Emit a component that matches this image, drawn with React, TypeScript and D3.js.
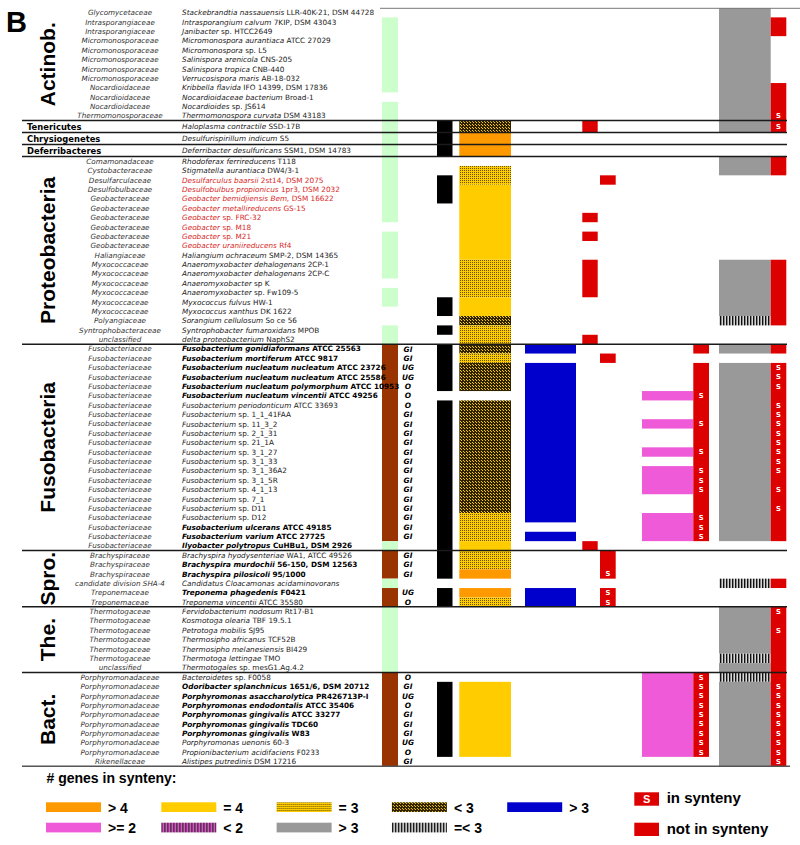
import React from "react";
import * as d3 from "d3";

// ---------- DATA ----------
const groupNames = ["Actinob.", "Tenericutes", "Chrysiogenetes", "Deferribacteres", "Proteobacteria", "Fusobacteria", "Spro.", "The.", "Bact."];
const groupSizes = [12, 1, 1, 1, 20, 22, 6, 7, 10];

const families = [
  "Glycomycetaceae", "Intrasporangiaceae", "Intrasporangiaceae", "Micromonosporaceae", "Micromonosporaceae",
  "Micromonosporaceae", "Micromonosporaceae", "Micromonosporaceae", "Nocardioidaceae", "Nocardioidaceae",
  "Nocardioidaceae", "Thermomonosporaceae",
  "", "", "",
  "Comamonadaceae", "Cystobacteraceae", "Desulfarculaceae", "Desulfobulbaceae", "Geobacteraceae",
  "Geobacteraceae", "Geobacteraceae", "Geobacteraceae", "Geobacteraceae", "Geobacteraceae",
  "Haliangiaceae", "Myxococcaceae", "Myxococcaceae", "Myxococcaceae", "Myxococcaceae",
  "Myxococcaceae", "Myxococcaceae", "Polyangiaceae", "Syntrophobacteraceae", "unclassified",
  "Fusobacteriaceae", "Fusobacteriaceae", "Fusobacteriaceae", "Fusobacteriaceae", "Fusobacteriaceae",
  "Fusobacteriaceae", "Fusobacteriaceae", "Fusobacteriaceae", "Fusobacteriaceae", "Fusobacteriaceae",
  "Fusobacteriaceae", "Fusobacteriaceae", "Fusobacteriaceae", "Fusobacteriaceae", "Fusobacteriaceae",
  "Fusobacteriaceae", "Fusobacteriaceae", "Fusobacteriaceae", "Fusobacteriaceae", "Fusobacteriaceae",
  "Fusobacteriaceae", "Fusobacteriaceae",
  "Brachyspiraceae", "Brachyspiraceae", "Brachyspiraceae", "candidate division SHA-4", "Treponemaceae", "Treponemaceae",
  "Thermotogaceae", "Thermotogaceae", "Thermotogaceae", "Thermotogaceae", "Thermotogaceae", "Thermotogaceae", "unclassified",
  "Porphyromonadaceae", "Porphyromonadaceae", "Porphyromonadaceae", "Porphyromonadaceae", "Porphyromonadaceae",
  "Porphyromonadaceae", "Porphyromonadaceae", "Porphyromonadaceae", "Porphyromonadaceae", "Rikenellaceae",
];

const species = [
  "Stackebrandtia nassauensis|LLR-40K-21, DSM 44728",
  "Intrasporangium calvum|7KIP, DSM 43043",
  "Janibacter|sp. HTCC2649",
  "Micromonospora aurantiaca|ATCC 27029",
  "Micromonospora|sp. L5",
  "Salinispora arenicola|CNS-205",
  "Salinispora tropica|CNB-440",
  "Verrucosispora maris|AB-18-032",
  "Kribbella flavida|IFO 14399, DSM 17836",
  "Nocardioidaceae bacterium|Broad-1",
  "Nocardioides|sp. JS614",
  "Thermomonospora curvata|DSM 43183",
  "Haloplasma contractile|SSD-17B",
  "Desulfurispirillum indicum|S5",
  "Deferribacter desulfuricans|SSM1, DSM 14783",
  "Rhodoferax ferrireducens|T118",
  "Stigmatella aurantiaca|DW4/3-1",
  "Desulfarculus baarsii|2st14, DSM 2075",
  "Desulfobulbus propionicus|1pr3, DSM 2032",
  "Geobacter bemidjiensis Bem,|DSM 16622",
  "Geobacter metallireducens|GS-15",
  "Geobacter|sp. FRC-32",
  "Geobacter|sp. M18",
  "Geobacter|sp. M21",
  "Geobacter uraniireducens|Rf4",
  "Haliangium ochraceum|SMP-2, DSM 14365",
  "Anaeromyxobacter dehalogenans|2CP-1",
  "Anaeromyxobacter dehalogenans|2CP-C",
  "Anaeromyxobacter|sp K",
  "Anaeromyxobacter|sp. Fw109-5",
  "Myxococcus fulvus|HW-1",
  "Myxococcus xanthus|DK 1622",
  "Sorangium cellulosum|So ce 56",
  "Syntrophobacter fumaroxidans|MPOB",
  "delta proteobacterium|NaphS2",
  "Fusobacterium gonidiaformans|ATCC 25563",
  "Fusobacterium mortiferum|ATCC 9817",
  "Fusobacterium nucleatum nucleatum|ATCC 23726",
  "Fusobacterium nucleatum nucleatum|ATCC 25586",
  "Fusobacterium nucleatum polymorphum|ATCC 10953",
  "Fusobacterium nucleatum vincentii|ATCC 49256",
  "Fusobacterium periodonticum|ATCC 33693",
  "Fusobacterium|sp. 1_1_41FAA",
  "Fusobacterium|sp. 11_3_2",
  "Fusobacterium|sp. 2_1_31",
  "Fusobacterium|sp. 21_1A",
  "Fusobacterium|sp. 3_1_27",
  "Fusobacterium|sp. 3_1_33",
  "Fusobacterium|sp. 3_1_36A2",
  "Fusobacterium|sp. 3_1_5R",
  "Fusobacterium|sp. 4_1_13",
  "Fusobacterium|sp. 7_1",
  "Fusobacterium|sp. D11",
  "Fusobacterium|sp. D12",
  "Fusobacterium ulcerans|ATCC 49185",
  "Fusobacterium varium|ATCC 27725",
  "Ilyobacter polytropus|CuHBu1, DSM 2926",
  "Brachyspira hyodysenteriae|WA1, ATCC 49526",
  "Brachyspira murdochii|56-150, DSM 12563",
  "Brachyspira pilosicoli|95/1000",
  "Candidatus Cloacamonas acidaminovorans|",
  "Treponema phagedenis|F0421",
  "Treponema vincentii|ATCC 35580",
  "Fervidobacterium nodosum|Rt17-B1",
  "Kosmotoga olearia|TBF 19.5.1",
  "Petrotoga mobilis|SJ95",
  "Thermosipho africanus|TCF52B",
  "Thermosipho melanesiensis|BI429",
  "Thermotoga lettingae|TMO",
  "Thermotogales|sp. mesG1.Ag.4.2",
  "Bacteroidetes|sp. F0058",
  "Odoribacter splanchnicus|1651/6, DSM 20712",
  "Porphyromonas asaccharolytica|PR426713P-I",
  "Porphyromonas endodontalis|ATCC 35406",
  "Porphyromonas gingivalis|ATCC 33277",
  "Porphyromonas gingivalis|TDC60",
  "Porphyromonas gingivalis|W83",
  "Porphyromonas uenonis|60-3",
  "Propionibacterium acidifaciens|F0233",
  "Alistipes putredinis|DSM 17216",
];

const boldRows = [35, 36, 37, 38, 39, 40, 54, 55, 56, 58, 59, 61, 71, 72, 73, 74, 75, 76];
const redRows = [17, 18, 19, 20, 21, 22, 23, 24];

// per-group code strings (Actinob | 3 single rows | Proteo | Fuso | Spro | The | Bact)
// habitat: G=GI, U=UG, O=O (brown), e=environmental (green), .=none
const habitatCol = [".eeeeeeee.ee", "eee", "eeeeeee.eeeee.ee..ee", "GGUUOOOGGGGGGGGGGGGGGe", "GGGeUO", "eeeeeee", "OGUOGGGUOG"];
const blackCol = ["000000000000", "111", "00111000000000011010", "1111101111111111111111", "111011", "0000000", "0111111110"];
// o: >4, y: =4, d: =3, k: <3
const yellowCol = ["............", "koo", ".ddyyyyyyyyddddyykdd", "kdkkk.kkkkkkkkkkkkdddy", "ddo.od", ".......", ".yyyyyyyy."];
const blueCol = ["000000000000", "000", "00000000000000000000", "1011111111111111111010", "000011", "0000000", "0000000000"];
// a: left slot, b: right slot, S: right slot in synteny
const smallRedCol = ["............", "a..", "..b...a.a..aaaa....a", ".b...................a", "bbS.SS", ".......", ".........."];
const pinkCol = ["............", "...", "....................", ".....p..p..p.ppp..ppp.", "......", ".......", "ppppppppp."];
const pinkRedCol = ["............", "...", "....................", "r.rrrSrrSrrSrSSSrrSSS.", "......", ".......", "SSSSSSSSS."];
// g: >3, z: =<3
const grayCol = ["gggggggggggg", "g..", "gg.........ggggggz..", "g.ggggggggggggggggggg.", "...z..", "gggggzg", "zggggggggg"];
const rightRedCol = [".rr.....rrrS", "S..", "rr.........rrrrrrr..", "r.SSSrSSSSSSSSrSrSrrr.", "...r..", "SrSrrrr", "rSSSSSSSSS"];

const legendRow1 = ["> 4", "= 4", "= 3", "< 3", "> 3"];
const legendRow1Keys = ["o", "y", "d", "k", "blue"];
const legendRow2 = [">= 2", "< 2", "> 3", "=< 3"];
const legendRow2Keys = ["p", "ps", "g", "z"];

// ---------- LAYOUT / STYLE ----------
const ROW_H = 9.38;
const SINGLE_H = 12;
const TOP = 8;
const COLORS = {
  green: "#ccffcc", brown: "#993300", black: "#000000", orange: "#ff9900", yellow: "#ffcc00",
  blue: "#0000cc", red: "#dd0000", pink: "#ef5ad8", gray: "#999999",
};
const FILL: Record<string, string> = {
  o: COLORS.orange, y: COLORS.yellow, d: "url(#patD)", k: "url(#patK)", blue: COLORS.blue,
  p: COLORS.pink, ps: "url(#patPS)", g: COLORS.gray, z: "url(#patZ)",
};
const colNames = ["habitat", "black", "yellow", "blue", "redA", "redB", "pink", "pinkRed", "gray", "rightRed"];
const colX = d3.scaleOrdinal<string, number>().domain(colNames).range([382, 437, 459.3, 525, 582.3, 600, 642, 693.3, 719, 770.7]);
const colW = d3.scaleOrdinal<string, number>().domain(colNames).range([16, 15.5, 51.7, 51, 15.4, 15.7, 51.3, 15.7, 51.7, 15.6]);

const TXT = "'DejaVu Sans', Verdana, sans-serif";
const ARIAL = "'Liberation Sans', Arial, sans-serif";

type Run = { k: string; start: number; end: number };
function runs(codes: string[], key: (c: string) => string | null): Run[] {
  const out: Run[] = [];
  let cur: Run | null = null;
  codes.forEach((c, i) => {
    const k = key(c);
    if (k && cur && cur.k === k && cur.end === i - 1) cur.end = i;
    else if (k) { cur = { k, start: i, end: i }; out.push(cur); }
    else cur = null;
  });
  return out;
}
const flat = (a: string[]) => a.join("").split("");

export default function App() {
  const heights = groupSizes.flatMap((n) => Array.from({ length: n }, () => (n === 1 ? SINGLE_H : ROW_H)));
  const tops = [TOP, ...Array.from(d3.cumsum(heights), (v) => TOP + v)];
  const y = d3.scaleOrdinal<number, number>().domain(d3.range(tops.length)).range(tops);
  const yc = (i: number) => (y(i) + y(i + 1)) / 2;

  const groupStarts = [0, ...Array.from(d3.cumsum(groupSizes))];

  const habitat = flat(habitatCol);
  const black = flat(blackCol);
  const yellow = flat(yellowCol);
  const blue = flat(blueCol);
  const smallRed = flat(smallRedCol);
  const pink = flat(pinkCol);
  const pinkRed = flat(pinkRedCol);
  const gray = flat(grayCol);
  const rightRed = flat(rightRedCol);

  const rectsFor = (col: string, codes: string[], key: (c: string) => string | null, fillOf: (k: string) => string) =>
    runs(codes, key).map((r, i) => (
      <rect key={col + i} x={colX(col)} y={y(r.start)} width={colW(col)} height={y(r.end + 1) - y(r.start)} fill={fillOf(r.k)} />
    ));

  const sLabels = (col: string, codes: string[]) =>
    codes.map((c, i) =>
      c === "S" ? (
        <text key={col + "s" + i} x={colX(col) + colW(col) / 2} y={yc(i)} dy="0.36em" textAnchor="middle"
          fontFamily={TXT} fontWeight="bold" fontSize={6.8} fill="#ffffff">S</text>
      ) : null
    );

  const habLabel: Record<string, string> = { G: "GI", U: "UG", O: "O" };

  return (
    <svg width={800} height={845} style={{ display: "block", position: "absolute", left: 0, top: 0 }}>
      <defs>
        <pattern id="patD" width={2} height={2} patternUnits="userSpaceOnUse">
          <rect width={2} height={2} fill={COLORS.yellow} />
          <rect width={1} height={1} fill="#6a5200" />
        </pattern>
        <pattern id="patK" width={3} height={3} patternUnits="userSpaceOnUse">
          <rect width={3} height={3} fill="#2e2200" />
          <rect x={1} y={1} width={1} height={1} fill={COLORS.yellow} />
          <rect x={2} y={2} width={1} height={1} fill={COLORS.yellow} />
        </pattern>
        <pattern id="patPS" width={3} height={3} patternUnits="userSpaceOnUse">
          <rect width={3} height={3} fill={COLORS.pink} />
          <rect width={1.3} height={3} fill="#222" />
        </pattern>
        <pattern id="patZ" width={3} height={3} patternUnits="userSpaceOnUse">
          <rect width={3} height={3} fill="#d8d8d8" />
          <rect width={1.4} height={3} fill="#111" />
        </pattern>
      </defs>
      <rect width={800} height={845} fill="#ffffff" />

      {/* panel letter */}
      <text x={6} y={32} fontFamily={ARIAL} fontWeight="bold" fontSize={29}>B</text>

      {/* columns */}
      {rectsFor("habitat", habitat, (c) => (c === "." ? null : c === "e" ? "e" : "b"), (k) => (k === "e" ? COLORS.green : COLORS.brown))}
      {rectsFor("black", black, (c) => (c === "1" ? "1" : null), () => COLORS.black)}
      {rectsFor("yellow", yellow, (c) => (c === "." ? null : c), (k) => FILL[k])}
      {rectsFor("blue", blue, (c) => (c === "1" ? "blue" : null), () => COLORS.blue)}
      {rectsFor("redA", smallRed, (c) => (c === "a" ? "r" : null), () => COLORS.red)}
      {rectsFor("redB", smallRed, (c) => (c === "b" || c === "S" ? "r" : null), () => COLORS.red)}
      {rectsFor("pink", pink, (c) => (c === "." ? null : c), (k) => FILL[k])}
      {rectsFor("pinkRed", pinkRed, (c) => (c === "." ? null : "r"), () => COLORS.red)}
      {rectsFor("gray", gray, (c) => (c === "." ? null : c), (k) => FILL[k])}
      {rectsFor("rightRed", rightRed, (c) => (c === "." ? null : "r"), () => COLORS.red)}
      {sLabels("redB", smallRed)}
      {sLabels("pinkRed", pinkRed)}
      {sLabels("rightRed", rightRed)}

      {/* habitat labels */}
      {habitat.map((c, i) =>
        habLabel[c] ? (
          <text key={"h" + i} x={408} y={yc(i)} dy="0.36em" textAnchor="middle" fontFamily={TXT}
            fontWeight="bold" fontStyle="italic" fontSize={7.4}>{habLabel[c]}</text>
        ) : null
      )}

      {/* family + species text */}
      {families.map((f, i) =>
        f ? (
          <text key={"f" + i} x={120} y={yc(i)} dy="0.36em" textAnchor="middle" fontFamily={TXT}
            fontStyle="italic" fontSize={7.2} fill="#333">{f}</text>
        ) : null
      )}
      {species.map((s, i) => {
        const [it, rest] = s.split("|");
        const bold = boldRows.includes(i);
        const red = redRows.includes(i);
        return (
          <text key={"s" + i} x={182} y={yc(i)} dy="0.36em" fontFamily={TXT} fontSize={7.3}
            fontWeight={bold ? "bold" : "normal"} fill={red ? "#d81f1f" : bold ? "#000" : "#222"}>
            <tspan fontStyle="italic">{it}</tspan>
            {rest ? <tspan>{" " + rest}</tspan> : null}
          </text>
        );
      })}

      {/* group labels */}
      {groupNames.map((g, gi) => {
        const a = groupStarts[gi], b = groupStarts[gi + 1];
        if (groupSizes[gi] === 1) {
          return (
            <text key={"g" + gi} x={27} y={yc(a)} dy="0.36em" fontFamily={TXT} fontWeight="bold" fontSize={8.4}>{g}</text>
          );
        }
        const cy = (y(a) + y(b)) / 2;
        return (
          <text key={"g" + gi} transform={`translate(55,${cy}) rotate(-90)`} textAnchor="middle"
            fontFamily={ARIAL} fontWeight="bold" fontSize={21}>{g}</text>
        );
      })}

      {/* separator lines */}
      <line x1={380} x2={800} y1={y(0) + 0.3} y2={y(0) + 0.3} stroke="#777" strokeWidth={1} />
      {groupStarts.slice(1, -1).map((r, i) => (
        <line key={"l" + i} x1={22} x2={787} y1={y(r)} y2={y(r)} stroke="#1a1a1a" strokeWidth={1.5} />
      ))}
      <line x1={22} x2={790} y1={y(groupStarts[groupStarts.length - 1])} y2={y(groupStarts[groupStarts.length - 1])} stroke="#555" strokeWidth={1.5} />

      {/* legend */}
      <text x={46.5} y={782.7} fontFamily={ARIAL} fontWeight="bold" fontSize={14}># genes in synteny:</text>
      {legendRow1.map((l, i) => (
        <g key={"l1" + i} transform={`translate(${46 + i * 115.3},0)`}>
          <rect x={0} y={802.3} width={55} height={9.7} fill={FILL[legendRow1Keys[i]]} />
          <text x={62} y={812.5} fontFamily={ARIAL} fontWeight="bold" fontSize={14}>{l}</text>
        </g>
      ))}
      {legendRow2.map((l, i) => (
        <g key={"l2" + i} transform={`translate(${46 + i * 115.3},0)`}>
          <rect x={0} y={822.7} width={55} height={9.7} fill={FILL[legendRow2Keys[i]]} />
          <text x={62} y={833.3} fontFamily={ARIAL} fontWeight="bold" fontSize={14}>{l}</text>
        </g>
      ))}
      <rect x={634.3} y={792.3} width={24.7} height={13.4} fill={COLORS.red} />
      <text x={646.6} y={799} dy="0.36em" textAnchor="middle" fontFamily={ARIAL} fontWeight="bold" fontSize={11} fill="#fff">S</text>
      <text x={666.7} y={803.3} fontFamily={ARIAL} fontWeight="bold" fontSize={15}>in synteny</text>
      <rect x={634.3} y={822.7} width={24.7} height={13.3} fill={COLORS.red} />
      <text x={666.7} y={834} fontFamily={ARIAL} fontWeight="bold" fontSize={15}>not in synteny</text>
    </svg>
  );
}
